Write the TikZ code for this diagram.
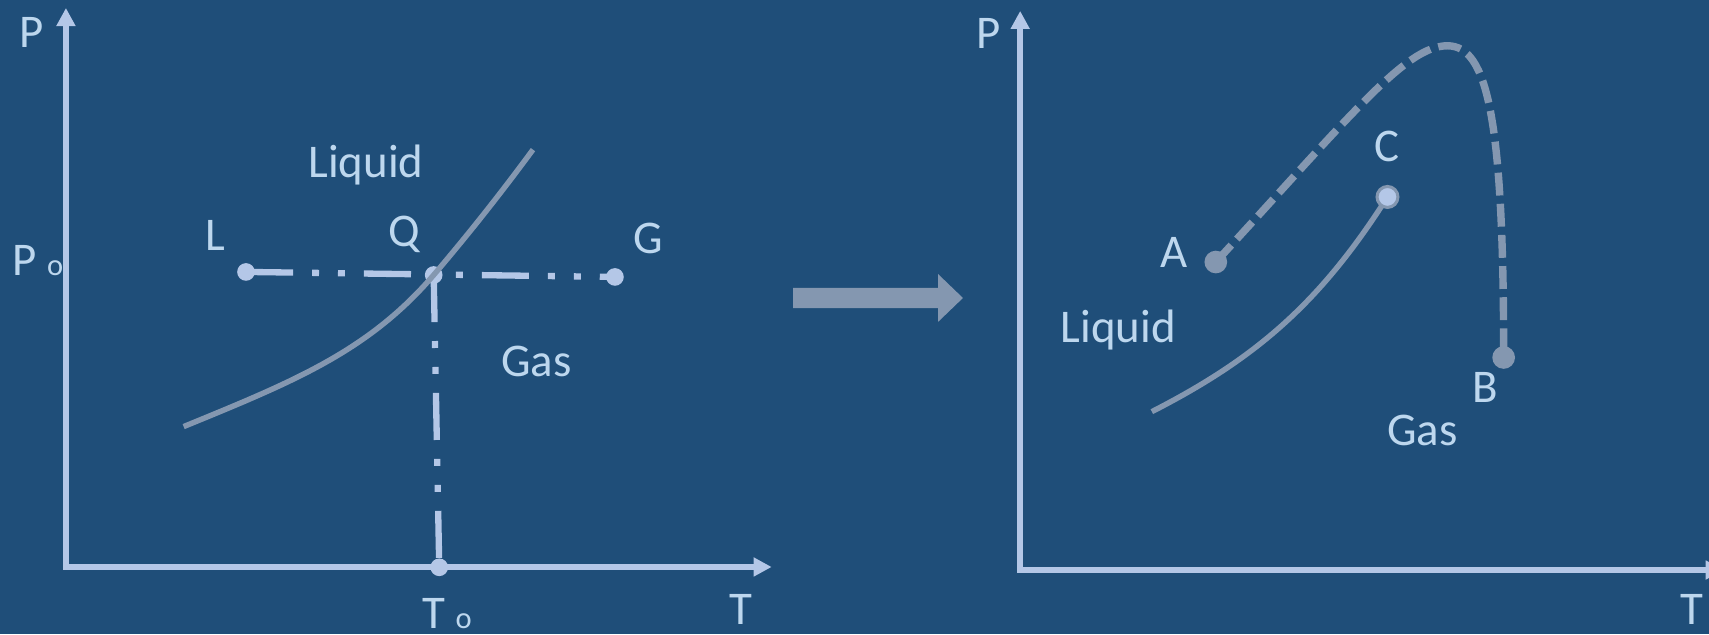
\documentclass[tikz,border=0pt]{standalone}
\usepackage{fontspec}
\setmainfont{Carlito}
\usetikzlibrary{arrows.meta}
\definecolor{fondo}{RGB}{31,78,121}
\definecolor{ejeazul}{RGB}{180,199,231}
\definecolor{curvagris}{RGB}{132,151,176}
\definecolor{textoazul}{RGB}{189,215,238}
\newcommand{\subo}{{\fontsize{14}{14}\selectfont o}}
\tikzset{
  eje/.style={draw=ejeazul, line width=2.75pt,
    arrows={Triangle[length=8.3pt,width=8.3pt]-Triangle[length=8.3pt,width=8.3pt]}},
  etiqueta/.style={text=textoazul, font=\fontsize{21.5}{21.5}\selectfont, inner sep=0pt, anchor=base},
  rayapunto/.style={draw=ejeazul, line width=2.9pt,
    dash pattern=on 21.6pt off 8.7pt on 3.2pt off 8.7pt on 3.2pt off 8.7pt},
  fase/.style={draw=curvagris, line width=2.5pt},
  critica/.style={draw=curvagris, line width=3.4pt, dash pattern=on 10.5pt off 3.8pt},
  punto/.style={circle, fill=ejeazul, inner sep=0pt, minimum size=8.1pt},
  puntogris/.style={circle, fill=curvagris, inner sep=0pt, minimum size=10.4pt},
  puntoc/.style={circle, fill=ejeazul, draw=curvagris, line width=1.4pt, inner sep=0pt, minimum size=9.6pt}
}
\begin{document}
\begin{tikzpicture}[x=0.5pt, y=-0.5pt]
    \useasboundingbox (0,0) rectangle (1568,582);
    \clip (0,0) rectangle (1568,582);
    \fill[fondo] (0,0) rectangle (1568,582);

    % Diagrama izquierdo: ejes
    \draw[eje] (60.5,7.3) -- (60.5,520.2) -- (708,520.2);
    \node[etiqueta] (p1) at (29.4,44) {P};
    \node[etiqueta] (t1) at (680,573.4) {T};
    \node[etiqueta, anchor=base west] (p0) at (11,253.2) {P \subo};
    \node[etiqueta, anchor=base west] (t0) at (387,576.5) {T \subo};

    % Lineas L-Q-G y Q-T0
    \coordinate (L) at (225.7,249.5);
    \coordinate (G) at (564.2,254.1);
    \coordinate (Q) at (397.9,252.3);
    \coordinate (T0) at (403,520.5);
    \coordinate (S) at (168.5,391.4);
    \coordinate (E) at (489,137.3);
    \draw[rayapunto] (L) -- (G);
    \draw[rayapunto] (Q) -- (T0);
    \node[punto] (Lpunto) at (L) {};
    \node[punto] (Gpunto) at (G) {};
    \node[punto] (Tpunto) at (T0) {};
    \node[punto] (Qpunto) at (Q) {};

    % Curva de vapor
    \draw[fase] (S) .. controls (268.5,350.4) and (337.9,322.5) .. (Q)
      .. controls (427.9,217.2) and (459,178.1) .. (E);

    \node[etiqueta] (liq1) at (335.9,163.3) {Liquid};
    \node[etiqueta] (gas1) at (492.2,345.8) {Gas};
    \node[etiqueta] (lL) at (197.8,230) {L};
    \node[etiqueta] (lQ) at (370.7,226.3) {Q};
    \node[etiqueta] (lG) at (594.8,233) {G};

    % Flecha central
    \fill[curvagris] (727.6,264.2) -- (860.6,264.2) -- (860.6,251.4) -- (883.5,273.4)
      -- (860.6,295.4) -- (860.6,282.6) -- (727.6,282.6) -- cycle;

    % Diagrama derecho: ejes
    \draw[eje] (936,10) -- (936,523) -- (1581.5,523);
    \node[etiqueta] (p2) at (906.6,44.5) {P};
    \node[etiqueta] (t2) at (1552,573.4) {T};

    % Camino alrededor del punto critico
    \coordinate (A) at (1115.5,240.4);
    \coordinate (cima) at (1328,42);
    \coordinate (B) at (1379.6,328);
    \coordinate (C) at (1273,180.7);
    \coordinate (inicio) at (1056.8,377.7);
    \draw[critica] (A) .. controls (1240,105) and (1290,42) .. (cima)
      .. controls (1365,42) and (1379.6,110) .. (B);
    \draw[fase] (inicio) .. controls (1150,330) and (1210,280) .. (C);
    \node[puntogris] (Apunto) at (A) {};
    \node[puntogris] (Bpunto) at (B) {};
    \node[puntoc] (Cpunto) at (C) {};

    \node[etiqueta] (lA) at (1077.6,245.6) {A};
    \node[etiqueta] (lB) at (1362.4,369.1) {B};
    \node[etiqueta] (lC) at (1273,148.4) {C};
    \node[etiqueta] (liq2) at (1026,314.6) {Liquid};
    \node[etiqueta] (gas2) at (1305,409.2) {Gas};
\end{tikzpicture}
\end{document}
